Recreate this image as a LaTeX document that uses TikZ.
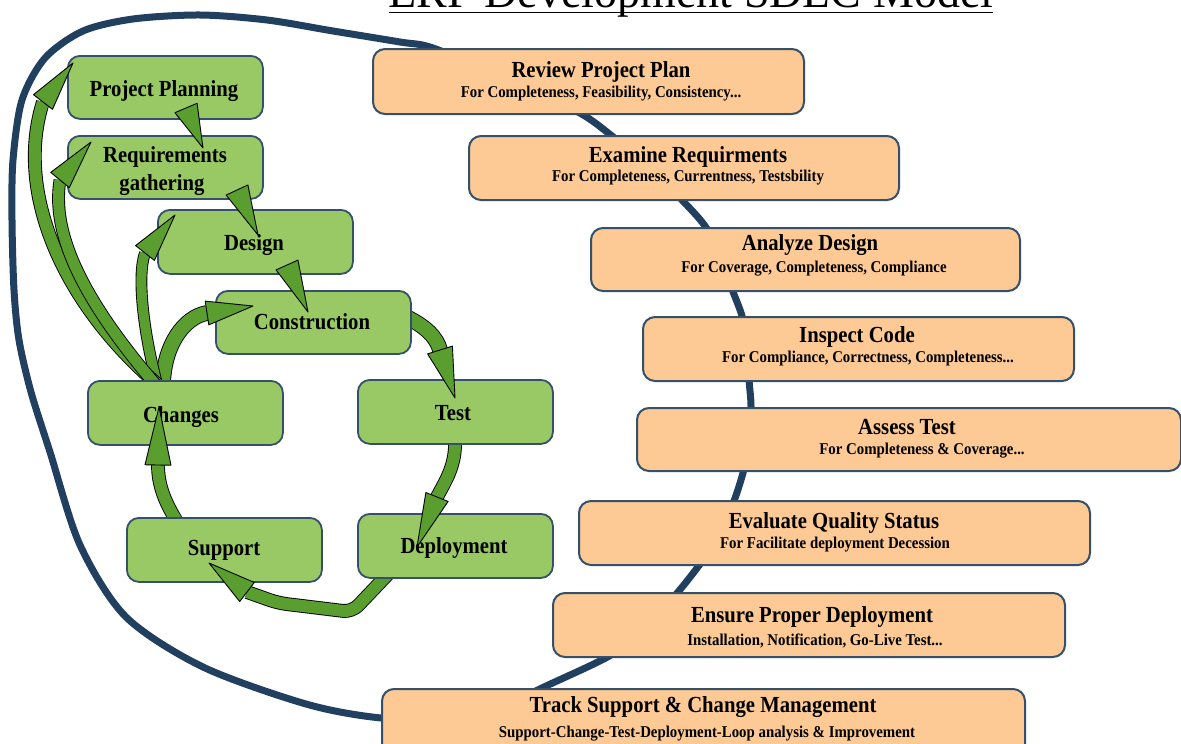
\documentclass[tikz,border=0pt]{standalone}
\usepackage{fontspec}
\setmainfont{Liberation Serif}
\newfontfamily\condfont{Liberation Serif}[FakeStretch=0.9]
\usetikzlibrary{calc}
\definecolor{orfill}{HTML}{FDC994}
\definecolor{boxedge}{HTML}{34506A}
\definecolor{grfill}{HTML}{98C964}
\definecolor{argreen}{HTML}{5A9E30}
\definecolor{loopblue}{HTML}{213F5E}
\tikzset{
  obox/.style={draw=boxedge, line width=2pt, fill=orfill, rounded corners=12pt, inner sep=0pt, anchor=north west},
  gbox/.style={draw=boxedge, line width=1.8pt, fill=grfill, rounded corners=12pt, inner sep=0pt, anchor=north west},
  ttl/.style={font=\condfont\bfseries\fontsize{23}{23}\selectfont, anchor=base, inner sep=0pt},
  subtxt/.style={font=\condfont\bfseries\fontsize{16.5}{16.5}\selectfont, anchor=base, inner sep=0pt},
  abody/.style={draw=black, line width=0.9pt, double=argreen, double distance=#1},
  abody/.default=11pt,
  ahead/.style={fill=argreen, draw=black, line width=0.9pt, line join=round},
  loopline/.style={draw=loopblue, line width=7pt, line cap=round},
}
\newcommand\ghead[3]{\filldraw[ahead] ($(#2)!#3!90:(#1)$) -- (#1) -- ($(#2)!#3!-90:(#1)$) -- cycle;}
\begin{document}
\begin{tikzpicture}[x=1pt,y=-1pt]
\useasboundingbox (0,0) rectangle (1181,744);
\clip (0,0) rectangle (1181,744);

% title (cut off at the top, as in the reference)
\node[font=\fontsize{46}{46}\selectfont, anchor=base, inner sep=0pt] (title) at (691,8) {ERP Development SDLC Model};
\draw[line width=1.8pt] ($(title.base west)+(0,4.5)$) -- ($(title.base east)+(0,4.5)$);

% big loop
\draw[loopline] plot[smooth, tension=0.5] coordinates {
 (470,721) (381,718) (306,704) (203,667) (126,617) (80,545) (50,452) (31,392)
 (19,340) (14,290) (12,220) (13,160) (22,100) (45,58) (83,31) (133,19) (200,15) (267,20)
 (333,31) (400,42) (433,48) (505,78) (578,112) (612,136) (650,168) (681,199)
 (705,226) (722,258) (732,289) (742,316) (748,348) (749,379) (751,406) (749,438)
 (744,469) (734,501) (720,534) (700,564) (678,592) (648,625) (611,655) (544,687) (505,706)};

% arrow coordinates
\coordinate (h1t) at (203,148); \coordinate (h1b) at (186,108);
\coordinate (h2t) at (258,235); \coordinate (h2b) at (237,190);
\coordinate (h3t) at (308,312); \coordinate (h3b) at (287,265);
\coordinate (a4s) at (404,316); \coordinate (h4b) at (440,350); \coordinate (h4t) at (455,398);
\coordinate (a5s) at (455,440); \coordinate (h5b) at (437,497); \coordinate (h5t) at (417,547);
\coordinate (a6s) at (390,572); \coordinate (a6m) at (352,612); \coordinate (a6n) at (278,603);
\coordinate (h6b) at (247,592); \coordinate (h6t) at (209,563);
\coordinate (a7s) at (176,520); \coordinate (h7b) at (158,465); \coordinate (h7t) at (159,407);
\coordinate (a8s) at (163,384); \coordinate (h8b) at (207,313); \coordinate (h8t) at (253,306);
\coordinate (a9s) at (157,384); \coordinate (h9b) at (145,253); \coordinate (h9t) at (175,215);
\coordinate (a10s) at (155,384); \coordinate (h10b) at (60,180); \coordinate (h10t) at (91,142);
\coordinate (a11s) at (157,384); \coordinate (h11b) at (43,102); \coordinate (h11t) at (73,63);

% arrow bodies (under the boxes)
\draw[abody=14pt] (a4s) .. controls (426,326) and (437,338) .. (h4b);
\draw[abody=12pt] (a5s) .. controls (456,465) and (446,480) .. (h5b);
\draw[abody=12pt, rounded corners=9pt] (a6s) -- (a6m) -- (a6n) -- (h6b);
\draw[abody=12pt] (a7s) .. controls (165,502) and (158,485) .. (h7b);
\draw[abody=14pt] (a8s) .. controls (164,345) and (184,317) .. (h8b);
\draw[abody=10pt] (a9s) .. controls (143,330) and (137,275) .. (h9b);
\draw[abody=12pt] (a11s) .. controls (60,300) and (15,190) .. (h11b);
\draw[abody=11pt] (a10s) .. controls (92,310) and (50,240) .. (h10b);

% orange boxes
\node[obox, minimum width=431pt, minimum height=65pt] (review) at (372,48) {};
\node[ttl] (reviewT) at (601,77) {Review Project Plan};
\node[subtxt] (reviewS) at (601,97) {For Completeness, Feasibility, Consistency...};

\node[obox, minimum width=430pt, minimum height=64pt] (examine) at (468,135) {};
\node[ttl] (examineT) at (688,162) {Examine Requirments};
\node[subtxt] (examineS) at (688,181) {For Completeness, Currentness, Testsbility};

\node[obox, minimum width=429pt, minimum height=63pt] (analyze) at (590,227) {};
\node[ttl] (analyzeT) at (810,250) {Analyze Design};
\node[subtxt] (analyzeS) at (814,272) {For Coverage, Completeness, Compliance};

\node[obox, minimum width=431pt, minimum height=64pt] (inspect) at (642,316) {};
\node[ttl] (inspectT) at (857,342) {Inspect Code};
\node[subtxt] (inspectS) at (868,362) {For Compliance, Correctness, Completeness...};

\node[obox, minimum width=544pt, minimum height=63pt] (assess) at (636,407) {};
\node[ttl] (assessT) at (907,434) {Assess Test};
\node[subtxt] (assessS) at (922,454) {For Completeness \& Coverage...};

\node[obox, minimum width=511pt, minimum height=64pt] (evaluate) at (578,500) {};
\node[ttl] (evaluateT) at (834,528) {Evaluate Quality Status};
\node[subtxt] (evaluateS) at (835,548) {For Facilitate deployment Decession};

\node[obox, minimum width=512pt, minimum height=64pt] (ensure) at (552,592) {};
\node[ttl] (ensureT) at (812,622) {Ensure Proper Deployment};
\node[subtxt] (ensureS) at (815,645) {Installation, Notification, Go-Live Test...};

\node[obox, minimum width=643pt, minimum height=72pt] (track) at (381,688) {};
\node[ttl] (trackT) at (703,712) {Track Support \& Change Management};
\node[subtxt] (trackS) at (707,737) {Support-Change-Test-Deployment-Loop analysis \& Improvement};

% green boxes
\node[gbox, minimum width=195pt, minimum height=63pt] (pp) at (67,55) {};
\node[ttl] (ppT) at (164,96) {Project Planning};
\node[gbox, minimum width=195pt, minimum height=63pt] (req) at (67,135) {};
\node[ttl] (reqT1) at (165,162) {Requirements};
\node[ttl] (reqT2) at (162,190) {gathering};
\node[gbox, minimum width=195pt, minimum height=64pt] (design) at (157,209) {};
\node[ttl] (designT) at (254,250) {Design};
\node[gbox, minimum width=195pt, minimum height=63pt] (constr) at (215,290) {};
\node[ttl] (constrT) at (312,329) {Construction};
\node[gbox, minimum width=195pt, minimum height=64pt] (changes) at (87,380) {};
\node[ttl] (changesT) at (181,422) {Changes};
\node[gbox, minimum width=195pt, minimum height=64pt] (test) at (357,379) {};
\node[ttl] (testT) at (453,420) {Test};
\node[gbox, minimum width=195pt, minimum height=64pt] (support) at (126,517) {};
\node[ttl] (supportT) at (224,555) {Support};
\node[gbox, minimum width=195pt, minimum height=64pt] (deploy) at (357,513) {};
\node[ttl] (deployT) at (454,553) {Deployment};

% arrow heads (on top)
\ghead{h1t}{h1b}{12pt}
\ghead{h2t}{h2b}{12pt}
\ghead{h3t}{h3b}{12pt}
\ghead{h4t}{h4b}{13pt}
\ghead{h5t}{h5b}{12pt}
\ghead{h6t}{h6b}{12pt}
\ghead{h7t}{h7b}{13pt}
\ghead{h8t}{h8b}{12pt}
\ghead{h9t}{h9b}{12pt}
\ghead{h10t}{h10b}{12pt}
\ghead{h11t}{h11b}{12pt}
\end{tikzpicture}
\end{document}
